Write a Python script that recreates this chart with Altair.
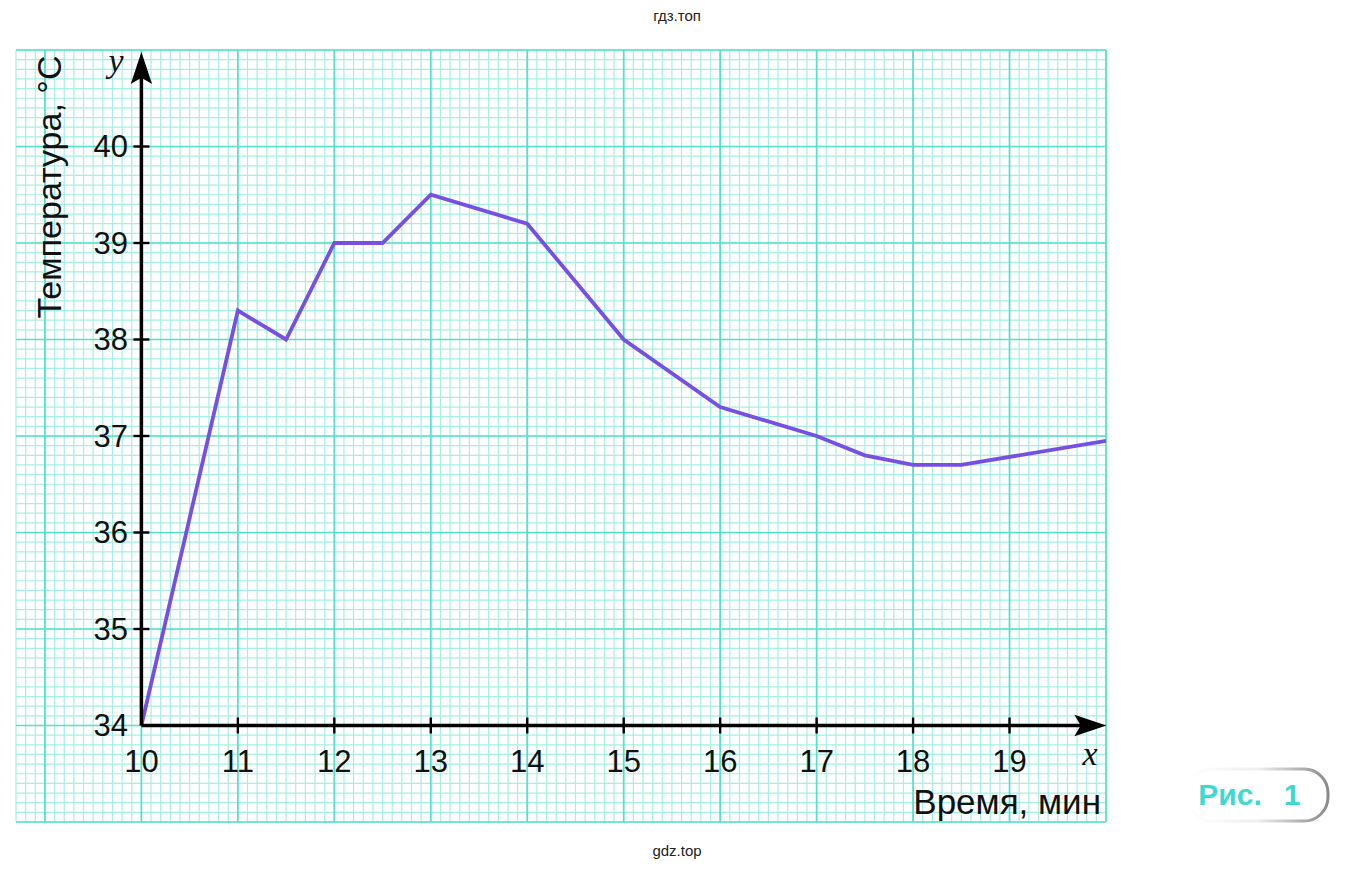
import altair as alt
import pandas as pd
import numpy as np

# ---- data ----
TIME = [10, 11, 11.5, 12, 12.5, 13, 14, 15, 16, 17, 17.5, 18, 18.5, 20]
TEMP = [34, 38.3, 38.0, 39, 39, 39.5, 39.2, 38, 37.3, 37, 36.8, 36.7, 36.7, 36.95]
X_TICKS = [10, 11, 12, 13, 14, 15, 16, 17, 18, 19]
Y_TICKS = [34, 35, 36, 37, 38, 39, 40]
X_TITLE = "Время, мин"
Y_TITLE = "Температура, °С"

X_DOMAIN = [8.7, 20]
Y_DOMAIN = [33, 41]

# graph-paper grid (every 0.1, major every 1)
X_MINOR = np.round(np.arange(87, 201) * 0.1, 1).tolist()
Y_MINOR = np.round(np.arange(330, 411) * 0.1, 1).tolist()
X_MAJOR = list(range(9, 21))
Y_MAJOR = list(range(33, 42))

xs = alt.Scale(domain=X_DOMAIN, nice=False, zero=False)
ys = alt.Scale(domain=Y_DOMAIN, nice=False, zero=False)

MAJOR = "#55e0cb"
MINOR = "#a6efe4"
FONT = "Liberation Sans"

def X(f="time"):
    return alt.X(f + ":Q", scale=xs, axis=None)

def Y(f="temp"):
    return alt.Y(f + ":Q", scale=ys, axis=None)

gx_minor = alt.Chart(pd.DataFrame({"time": X_MINOR})).mark_rule(color=MINOR, strokeWidth=1.2).encode(x=X())
gy_minor = alt.Chart(pd.DataFrame({"temp": Y_MINOR})).mark_rule(color=MINOR, strokeWidth=1.2).encode(y=Y())
gx_major = alt.Chart(pd.DataFrame({"time": X_MAJOR})).mark_rule(color=MAJOR, strokeWidth=1.7).encode(x=X())
gy_major = alt.Chart(pd.DataFrame({"temp": Y_MAJOR})).mark_rule(color=MAJOR, strokeWidth=1.7).encode(y=Y())

df = pd.DataFrame({"time": TIME, "temp": TEMP})
line = alt.Chart(df).mark_line(color="#7750e3", strokeWidth=3.8, strokeJoin="miter").encode(x=X(), y=Y())

# axis lines
xaxis = alt.Chart(pd.DataFrame({"time": [X_TICKS[0]], "x2": [X_DOMAIN[1] - 0.1], "temp": [Y_TICKS[0]]})).mark_rule(
    color="black", strokeWidth=3.5).encode(x=X(), x2="x2:Q", y=Y())
yaxis = alt.Chart(pd.DataFrame({"time": [X_TICKS[0]], "temp": [Y_TICKS[0]], "y2": [Y_DOMAIN[1] - 0.1]})).mark_rule(
    color="black", strokeWidth=3.5).encode(x=X(), y=Y(), y2="y2:Q")

ARROW = "M0,-1 L0.6,0.8 L0,0.45 L-0.6,0.8 Z"
arrow_y = alt.Chart(pd.DataFrame({"time": [X_TICKS[0]], "temp": [40.795]})).mark_point(
    shape=ARROW, filled=True, size=1264, color="black", opacity=1).encode(x=X(), y=Y())
arrow_x = alt.Chart(pd.DataFrame({"time": [19.82], "temp": [Y_TICKS[0]]})).mark_point(
    shape=ARROW, filled=True, size=1264, color="black", opacity=1, angle=90).encode(x=X(), y=Y())

# ticks
xt = pd.DataFrame({"time": X_TICKS[1:], "temp": [Y_TICKS[0]] * (len(X_TICKS) - 1)})
xticks = alt.Chart(xt).mark_tick(orient="vertical", size=16, thickness=2.4, color="black", opacity=1).encode(
    x=X(), y=Y())
yt = pd.DataFrame({"time": [X_TICKS[0]] * (len(Y_TICKS) - 1), "temp": Y_TICKS[1:]})
yticks = alt.Chart(yt).mark_tick(orient="horizontal", size=16, thickness=2.4, color="black", opacity=1).encode(
    x=X(), y=Y())

# tick labels
xl = pd.DataFrame({"time": X_TICKS, "lab": [str(v) for v in X_TICKS]})
xlabels = alt.Chart(xl).mark_text(font=FONT, fontSize=31, align="center", baseline="middle", color="#111").encode(
    x=X(), y=alt.value(713), text="lab:N")
yl = pd.DataFrame({"temp": Y_TICKS, "lab": [str(v) for v in Y_TICKS]})
ylabels = alt.Chart(yl).mark_text(font=FONT, fontSize=31, align="right", baseline="middle", dy=1.5,
                                  color="#111").encode(x=alt.value(112), y=Y(), text="lab:N")

def txt(s, x, y, **kw):
    return alt.Chart(pd.DataFrame({"s": [s]})).mark_text(**kw).encode(
        x=alt.value(x), y=alt.value(y), text="s:N")

ytitle = txt(Y_TITLE, 35, 137, font=FONT, fontSize=34, angle=270, align="center", baseline="middle", color="#111")
xtitle = txt(X_TITLE, 1085, 753, font=FONT, fontSize=35, align="right", baseline="middle", color="#111")
yname = txt("y", 100, 12, font="Liberation Serif", fontStyle="italic", fontSize=34, align="center",
            baseline="middle", color="#111")
xname = txt("x", 1074, 705, font="Liberation Serif", fontStyle="italic", fontSize=34, align="center",
            baseline="middle", color="#111")
wm_top = txt("гдз.топ", 661, -34, font=FONT, fontSize=15, align="center", baseline="middle", color="#222")
wm_bot = txt("gdz.top", 661, 801, font=FONT, fontSize=15, align="center", baseline="middle", color="#222")

badge = alt.Chart(pd.DataFrame({"s": ["Рис. 1"]})).mark_rect(
    cornerRadius=24, fill="white", fillOpacity=0, strokeWidth=3,
    stroke=alt.LinearGradient(gradient="linear", x1=0, x2=1, y1=0, y2=0,
                              stops=[alt.GradientStop(offset=0, color="#ffffff"),
                                     alt.GradientStop(offset=0.5, color="#eeeeee"),
                                     alt.GradientStop(offset=1, color="#8a8a8a")])).encode(
    x=alt.value(1172), x2=alt.value(1312), y=alt.value(719), y2=alt.value(771))
badge_t1 = txt("Рис.", 1214, 746, font=FONT, fontSize=30, fontWeight="bold", align="center",
               baseline="middle", color="#3fd9d0")
badge_t2 = txt("1", 1276, 746, font=FONT, fontSize=30, fontWeight="bold", align="center",
               baseline="middle", color="#3fd9d0")

chart = alt.layer(
    gx_minor, gy_minor, gx_major, gy_major,
    line, xaxis, yaxis, arrow_y, arrow_x, xticks, yticks, xlabels, ylabels,
    ytitle, xtitle, yname, xname, wm_top, wm_bot, badge, badge_t1, badge_t2
).properties(
    width=1090, height=772,
    padding={"left": 8, "top": 42, "right": 240, "bottom": 40},
    autosize=alt.AutoSizeParams(type="none"),
).configure_view(stroke=None)

chart.save("out.html", embed_options={"renderer": "svg", "actions": False})
